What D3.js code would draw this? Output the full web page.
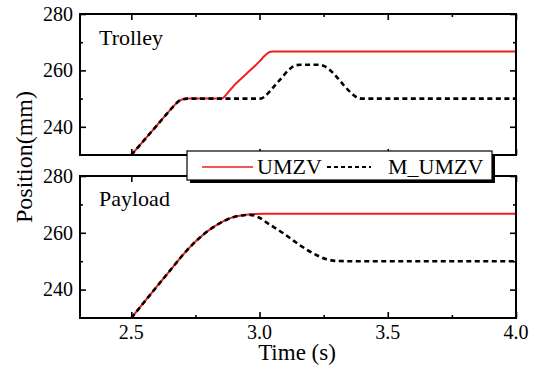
<!DOCTYPE html>
<html>
<head>
<meta charset="utf-8">
<script src="https://cdn.jsdelivr.net/npm/d3@7"></script>
</head>
<body style="margin:0;background:#fff">
<svg id="s" width="538" height="369" font-family="Liberation Serif"></svg>
<script>
// ---- data ----
const xTicks = [2.5, 3.0, 3.5, 4.0];
const xTickLabels = ["2.5", "3.0", "3.5", "4.0"];
const yTicks = [240, 260, 280];
const seriesNames = ["UMZV", "M_UMZV"];
const panelNames = ["Trolley", "Payload"];

const trolleyUmzvT = [2.5, 2.6, 2.65, 2.675, 2.695, 2.72, 2.846, 2.858, 2.872, 2.9, 2.95, 3.0, 3.02, 3.035, 3.05, 3.07, 4.0];
const trolleyUmzvV = [230, 240.5, 245.8, 248.3, 249.6, 250, 250, 250.3, 251.6, 254.6, 258.9, 263.2, 265.2, 266.3, 266.7, 266.7, 266.7];

const trolleyMumzvT = [2.5, 2.6, 2.65, 2.675, 2.695, 2.72, 3.005, 3.02, 3.04, 3.08, 3.119, 3.14, 3.16, 3.235, 3.255, 3.288, 3.327, 3.366, 3.385, 3.4, 4.0];
const trolleyMumzvV = [230, 240.5, 245.8, 248.3, 249.6, 250, 250, 250.7, 252.6, 256.7, 260.6, 261.8, 262, 262, 261.4, 259, 254.9, 251.3, 250.2, 250, 250];

const payloadUmzvT = [2.5, 2.6, 2.65, 2.7, 2.74, 2.78, 2.82, 2.86, 2.9, 2.94, 2.98, 3.02, 4.0];
const payloadUmzvV = [230, 241.1, 246.6, 252.1, 256.0, 259.3, 262.0, 264.1, 265.6, 266.3, 266.6, 266.7, 266.7];

const payloadMumzvT = [2.5, 2.6, 2.65, 2.7, 2.74, 2.78, 2.82, 2.86, 2.9, 2.94, 2.963, 3.0, 3.028, 3.093, 3.158, 3.223, 3.262, 3.3, 3.35, 4.0];
const payloadMumzvV = [230, 241.1, 246.6, 252.1, 256.0, 259.3, 262.0, 264.1, 265.6, 266.2, 266.3, 265.3, 263.6, 259.8, 255.6, 252.1, 250.7, 250.1, 250, 250];

// ---- layout ----
const svg = d3.select("#s");
const left = 80, right = 516;
const panels = [
  {name: panelNames[0], top: 14, bottom: 155,
   series: [{t: trolleyUmzvT, v: trolleyUmzvV}, {t: trolleyMumzvT, v: trolleyMumzvV}]},
  {name: panelNames[1], top: 176, bottom: 318,
   series: [{t: payloadUmzvT, v: payloadUmzvV}, {t: payloadMumzvT, v: payloadMumzvV}]}
];
const colors = ["#f01e1e", "#000"];
const dashes = [null, "5,3.5"];
const widths = [2, 2.6];

const x = d3.scaleLinear().domain([2.3, 4.0]).range([left, right]);
const xMinor = [2.75, 3.25, 3.75];
const yMinor = [250, 270];

function addText(parent, x0, y0, str, size) {
  return parent.append("text").attr("x", x0).attr("y", y0)
    .style("font-family", '"Liberation Serif"').attr("font-size", size).attr("fill", "#000").text(str);
}

panels.forEach((p, i) => {
  const y = d3.scaleLinear().domain([230, 280]).range([p.bottom, p.top]);
  const clipId = "clip" + i;
  svg.append("clipPath").attr("id", clipId).append("rect")
    .attr("x", left).attr("y", p.top).attr("width", right - left).attr("height", p.bottom - p.top);

  const line = d3.line().x(d => x(d[0])).y(d => y(d[1])).curve(d3.curveMonotoneX);
  p.series.forEach((s, k) => {
    const pts = s.t.map((t, j) => [t, s.v[j]]);
    svg.append("path").attr("d", line(pts)).attr("fill", "none")
      .attr("stroke", colors[k]).attr("stroke-width", widths[k])
      .attr("stroke-dasharray", dashes[k]).attr("clip-path", `url(#${clipId})`);
  });

  // tick marks via axes (no labels), labels added as plain texts
  const noLab = sel => {
    sel.select(".domain").remove();
    sel.selectAll("text").remove();
    sel.selectAll(".tick line").attr("stroke", "#000").attr("stroke-width", 1.6);
  };
  noLab(svg.append("g").attr("transform", `translate(0,${p.bottom})`)
    .call(d3.axisBottom(x).tickValues(xTicks).tickSize(-6)));
  noLab(svg.append("g").attr("transform", `translate(0,${p.bottom})`)
    .call(d3.axisBottom(x).tickValues(xMinor).tickSize(-3)));
  noLab(svg.append("g").attr("transform", `translate(0,${p.top})`)
    .call(d3.axisTop(x).tickValues(xTicks).tickSize(-6)));
  noLab(svg.append("g").attr("transform", `translate(0,${p.top})`)
    .call(d3.axisTop(x).tickValues(xMinor).tickSize(-3)));
  noLab(svg.append("g").attr("transform", `translate(${left},0)`)
    .call(d3.axisLeft(y).tickValues(yTicks).tickSize(-6)));
  noLab(svg.append("g").attr("transform", `translate(${left},0)`)
    .call(d3.axisLeft(y).tickValues(yMinor).tickSize(-3)));
  noLab(svg.append("g").attr("transform", `translate(${right},0)`)
    .call(d3.axisRight(y).tickValues(yTicks).tickSize(-6)));
  noLab(svg.append("g").attr("transform", `translate(${right},0)`)
    .call(d3.axisRight(y).tickValues(yMinor).tickSize(-3)));

  yTicks.forEach(v => {
    addText(svg, left - 7, y(v), String(v), 20).attr("text-anchor", "end").attr("dy", "0.34em");
  });
  if (i === 1) {
    xTicks.forEach((v, j) => {
      addText(svg, x(v), p.bottom + 21, xTickLabels[j], 20).attr("text-anchor", "middle");
    });
  }

  svg.append("rect").attr("x", left).attr("y", p.top).attr("width", right - left).attr("height", p.bottom - p.top)
    .attr("fill", "none").attr("stroke", "#000").attr("stroke-width", 2);

  addText(svg, 99, i === 0 ? 45 : 206, p.name, 22);
});

addText(svg, 0, 0, "Position(mm)", 24).attr("transform", "translate(32,157) rotate(-90)").attr("text-anchor", "middle");
addText(svg, 297, 360, "Time (s)", 23).attr("text-anchor", "middle");

// legend
svg.append("rect").attr("x", 190).attr("y", 154).attr("width", 305).attr("height", 29).attr("fill", "#000");
svg.append("rect").attr("x", 187).attr("y", 151).attr("width", 305).attr("height", 29)
  .attr("fill", "#fff").attr("stroke", "#000").attr("stroke-width", 1.2);
const legendItems = [
  {x1: 202, x2: 253, tx: 257},
  {x1: 327, x2: 371, tx: 388}
];
legendItems.forEach((it, k) => {
  svg.append("line").attr("x1", it.x1).attr("x2", it.x2).attr("y1", 167).attr("y2", 167)
    .attr("stroke", colors[k]).attr("stroke-width", k === 0 ? 1.6 : 2)
    .attr("stroke-dasharray", k === 0 ? null : "4,3");
  addText(svg, it.tx, 174, seriesNames[k], 22);
});
</script>
</body>
</html>
